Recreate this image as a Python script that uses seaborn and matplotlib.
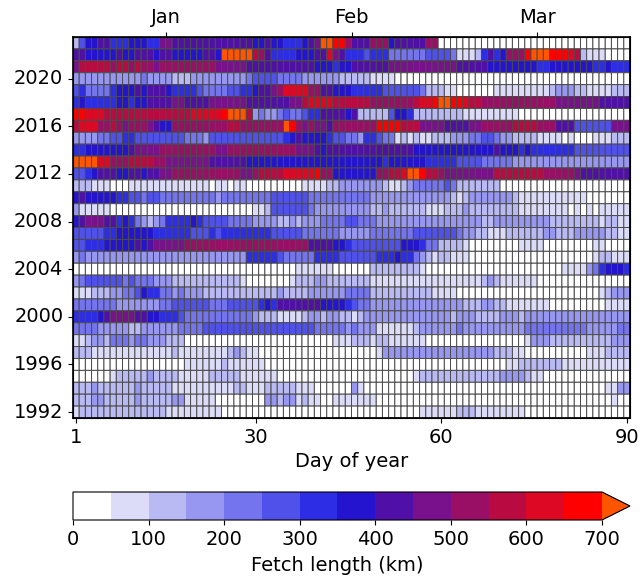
import numpy as np
import pandas as pd
import seaborn as sns
import matplotlib
matplotlib.use("Agg")
import matplotlib.pyplot as plt
from matplotlib.colors import ListedColormap, BoundaryNorm

# one character per day (hex class of fetch length, 50 km wide, e = above 700 km)
fetch_2023 = "2577886667 7766998888 8888888887 7877666789 eedda888aa a788888aa0 0000000000 0000000000 0000000000"
fetch_2022 = "8877777877 8887887777 7887eeeeeb a866667778 8c98666566 6444444555 5411126867 aaadeeeddd cb21110000"
fetch_2021 = "9bbbbbabba baa9aaaaaa aaa9999988 8888888887 7767788888 8999999999 9988888777 7777766777 7777667666"
fetch_2020 = "3333333333 3433332223 3333333345 5554444333 3332222211 1100000000 0000000000 0000000000 0000000000"
fetch_2019 = "5644446777 8788876666 5444455667 889accccaa 8877766666 5555554222 1100000011 1111111233 3221111222"
fetch_2018 = "6766666776 7788889988 8899999988 8888899bcc ccbbbbbbaa aaaaabccde eddcbbaaaa aaaaaaaa99 9999988888"
fetch_2017 = "ddcccbbbbb bbbbbbbbbc ccccdeeeb3 4334544566 8888782222 2577622222 2221111111 1100000000 0000000000"
fetch_2016 = "bcccaaba9a aa9877aaaa aaaaabbaaa aaaaeda9a9 98aaaaaaad dddbbb9999 888899aaaa abbbbaaa88 8555555999"
fetch_2015 = "3333445566 5555555544 4355555555 5555678777 7655443665 4412121122 2333445543 3222211110 1000111222"
fetch_2014 = "6677777778 9999aaaaaa aaa99aaaaa aaaaaa9998 7888888888 8888877777 7777777787 7767666666 6555555555"
fetch_2013 = "eeeeccaaab bbbaa99999 9988888877 7777777777 7777777777 6777777666 6655554444 4333333333 3333333333"
fetch_2012 = "5567888778 878899aaaa aaaaaaa99a bbbbcccccd aa7777777a abbceedbba 99999999bb bbbbbbaaaa a988888888"
fetch_2011 = "2221110001 1111111111 1101101100 0000000111 1223333333 2112344444 5422222220 0000000000 0000000000"
fetch_2010 = "7877777665 5455444444 4443444444 4455555544 4444444433 3333333333 3212333333 3211111111 1110000000"
fetch_2009 = "3111110000 0000000000 0000000001 1255555543 3333333322 3222222111 2223222222 2211111111 0101011111"
fetch_2008 = "7899988676 4323466667 6555544443 3332232333 4444554443 3333333333 3333332233 3333333222 2222212211"
fetch_2007 = "5555566777 7776666665 5565666666 6655555444 4443333344 4444455555 5543322111 2222223322 2333332211"
fetch_2006 = "5566677777 87899999aa aaaaaaaaaa aaaaaaaa88 8877655555 5557776442 2221000000 0011110000 0000110000"
fetch_2005 = "3433333333 3333333333 3333333366 6665444446 6665555556 6676643212 2111000000 0000000000 0000122111"
fetch_2004 = "0000000000 0000000000 0000000000 0000001111 1100000022 2222221000 0000000000 0000000001 1113467776"
fetch_2003 = "3455555545 4443332222 2222222100 0000012223 3222222211 1111111111 1111112321 1111100000 0000000000"
fetch_2002 = "1112223344 5766443433 3222222222 2223222233 3333444422 2222222211 1100000000 0000000000 0000012333"
fetch_2001 = "4444444333 3333445555 5544455555 6768888888 7777654433 3333333333 3332223322 1111111000 0000001111"
fetch_2000 = "6666789999 8877666544 4444444443 2221111233 2332212333 3333333333 3233322223 3323333333 3333333333"
fetch_1999 = "4444333332 2333333444 4555555555 5555555554 4444343331 1111123333 3343333333 3334444444 4443333344"
fetch_1998 = "1123324443 4433322200 0000000000 0000000000 0011122212 2111111000 0000000000 0001333222 2222222333"
fetch_1997 = "2221111111 1111112111 1111123211 0000000000 0000000001 3333333333 3333333322 2110000000 0001112222"
fetch_1996 = "0000000000 0000000011 1111211111 1000000000 0000000000 0000000000 0000000000 1122222221 1111111111"
fetch_1995 = "0000001222 2232222111 1122222111 1110000000 0000000000 0000012222 2222222223 3332110000 0000000000"
fetch_1994 = "2223222222 3222221111 1111112211 1222221110 0000031000 0000000000 0000000000 0000000000 0000001133"
fetch_1993 = "2223322222 3222223311 1110000000 0332331211 0011111110 0000000000 0000000000 0000000000 0000000100"
fetch_1992 = "1222222222 2222211111 1111000000 0000000000 0000000000 0000001111 1122211111 1110000000 0000000000"

years = list(range(2023, 1991, -1))
rows = [fetch_2023, fetch_2022, fetch_2021, fetch_2020, fetch_2019, fetch_2018, fetch_2017, fetch_2016,
        fetch_2015, fetch_2014, fetch_2013, fetch_2012, fetch_2011, fetch_2010, fetch_2009, fetch_2008,
        fetch_2007, fetch_2006, fetch_2005, fetch_2004, fetch_2003, fetch_2002, fetch_2001, fetch_2000,
        fetch_1999, fetch_1998, fetch_1997, fetch_1996, fetch_1995, fetch_1994, fetch_1993, fetch_1992]

level_colors = ["#ffffff", "#dcdcf8", "#b9b9f4", "#9797f1", "#7474ee", "#5050ea", "#2d2de6", "#2414cf",
                "#5010a8", "#79108c", "#990f66", "#b90a42", "#dd0824", "#ff0000"]
over_color = "#ff5500"
levels = list(range(0, 701, 50))

# decode the class characters to km (middle of each class)
table = []
for row in rows:
    row = row.replace(" ", "")
    assert len(row) == 90
    table.append([int(ch, 16) * 50 + 25 for ch in row])
df = pd.DataFrame(table, index=years, columns=range(1, 91))

cmap = ListedColormap(level_colors)
cmap.set_over(over_color)
norm = BoundaryNorm(levels, cmap.N)

fig = plt.figure(figsize=(6.4, 5.79), dpi=100)
ax = fig.add_axes([73 / 640, 1 - 418 / 579, 557 / 640, 381 / 579])
# the colorbar shrinks its body inside this box to make room for the triangle
cax = fig.add_axes([73 / 640, 1 - 520 / 579, 557 / 640, 28 / 579])

sns.heatmap(df, ax=ax, cmap=cmap, norm=norm, linewidths=0.7, linecolor="#4a4a4a", cbar_ax=cax,
            antialiased=True,
            cbar_kws={"orientation": "horizontal", "extend": "max", "extendfrac": 0.053,
                      "ticks": list(range(0, 701, 100)), "spacing": "proportional"})
ax.collections[0].set_snap(False)

for spine in ax.spines.values():
    spine.set_visible(True)
    spine.set_color("black")
    spine.set_linewidth(1.2)

ax.set_xticks([0.5, 29.5, 59.5, 89.5])
ax.set_xticklabels(["1", "30", "60", "90"], rotation=0)
tick_years = [2020, 2016, 2012, 2008, 2004, 2000, 1996, 1992]
ax.set_yticks([years.index(y) + 0.5 for y in tick_years])
ax.set_yticklabels([str(y) for y in tick_years], rotation=0)
ax.tick_params(labelsize=14, length=3.5, width=0.8)
ax.set_xlabel("Day of year", fontsize=14)
ax.set_ylabel("")

top = ax.twiny()
top.set_xlim(ax.get_xlim())
top.set_xticks([15, 45, 75])
top.set_xticklabels(["Jan", "Feb", "Mar"])
top.tick_params(labelsize=14, length=3.5, width=0.8)

cbar = ax.collections[0].colorbar
cbar.outline.set_linewidth(0.8)
cbar.outline.set_edgecolor("black")
cbar.ax.minorticks_off()
cbar.ax.tick_params(labelsize=14)
cbar.set_label("Fetch length (km)", fontsize=14, labelpad=5)

fig.savefig("out.png", dpi=100)
